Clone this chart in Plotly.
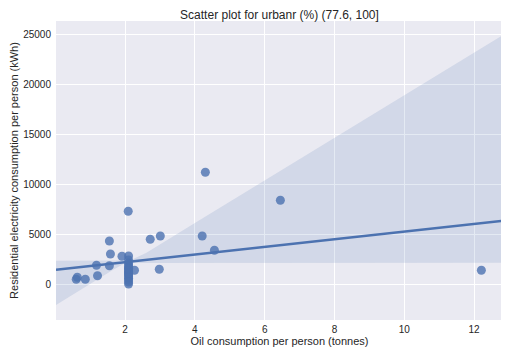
import numpy as np
import plotly.graph_objects as go

# Data
oil = [0.60, 0.63, 0.86, 1.18, 1.21, 1.55, 1.55, 1.58, 1.91, 2.09,
       2.10, 2.10, 2.10, 2.10, 2.10, 2.10, 2.10, 2.10,
       2.10, 2.10, 2.10, 2.10, 2.10, 2.10, 2.10, 2.10, 2.10,
       2.27, 2.72, 2.98, 3.01, 4.21, 4.30, 4.56, 6.45, 12.21]
elec = [470, 670, 470, 1870, 830, 4300, 1830, 3000, 2770, 7270,
        2800, 2400, 1900, 1570, 1230, 900, 570, 0,
        2100, 1700, 1300, 1000, 700, 400, 200, 1100, 1500,
        1370, 4470, 1470, 4800, 4800, 11170, 3370, 8370, 1370]

# Confidence band edges
ci_x = [0.02, 1.0, 1.6, 2.0, 2.2, 2.6, 4.0, 8.0, 12.83]
ci_lower = [-2100, 0, 1290, 2100, 2170, 2150, 2140, 2130, 2130]
ci_upper = [2330, 2320, 2330, 2360, 2450, 3110, 6090, 14610, 24900]

x_range = [0.02, 12.83]
y_range = [-3600, 26300]
x_ticks = [2, 4, 6, 8, 10, 12]
y_ticks = [0, 5000, 10000, 15000, 20000, 25000]

x = np.array(oil)
y = np.array(elec)
slope, intercept = np.polyfit(x, y, 1)
fit_x = np.linspace(x_range[0], x_range[1], 100)
fit_y = intercept + slope * fit_x

blue = "#4C72B0"
fig = go.Figure()
fig.add_trace(go.Scatter(
    x=x, y=y, mode="markers",
    marker=dict(color=blue, opacity=0.8, size=9, line=dict(width=0)),
    showlegend=False, hoverinfo="skip"))
fig.add_trace(go.Scatter(
    x=ci_x + ci_x[::-1], y=ci_upper + ci_lower[::-1],
    fill="toself", fillcolor="rgba(76,114,176,0.15)",
    line=dict(width=0), mode="lines", showlegend=False, hoverinfo="skip"))
fig.add_trace(go.Scatter(
    x=fit_x, y=fit_y, mode="lines",
    line=dict(color=blue, width=2.6), showlegend=False, hoverinfo="skip"))

# the page body adds an 8px offset, so the figure is sized to fit inside it
font_family = "Liberation Sans, Arial, sans-serif"
fig.update_layout(
    width=501, height=349,
    margin=dict(l=48, r=6, t=13, b=37),
    paper_bgcolor="white", plot_bgcolor="#EAEAF2",
    font=dict(family=font_family, size=10, color="#262626"),
    title=dict(text="Scatter plot for urbanr (%) (77.6, 100]",
               x=0.5, xref="paper", xanchor="center",
               y=0.98, yref="container", yanchor="middle", pad=dict(t=0, b=0),
               font=dict(size=12, color="#262626")),
    xaxis=dict(range=x_range, tickvals=x_ticks, showgrid=True,
               gridcolor="white", gridwidth=1, zeroline=False,
               showline=False, ticks="", ticklabelstandoff=2,
               title=dict(text="Oil consumption per person (tonnes)",
                          font=dict(size=11), standoff=3)),
    yaxis=dict(range=y_range, tickvals=y_ticks, tickformat="d",
               showgrid=True,
               gridcolor="white", gridwidth=1, zeroline=False,
               showline=False, ticks="", ticklabelstandoff=4,
               title=dict(text="Residential electricity consumption per person (kWh)",
                          font=dict(size=11), standoff=2)),
)
fig.write_html("out.html")
